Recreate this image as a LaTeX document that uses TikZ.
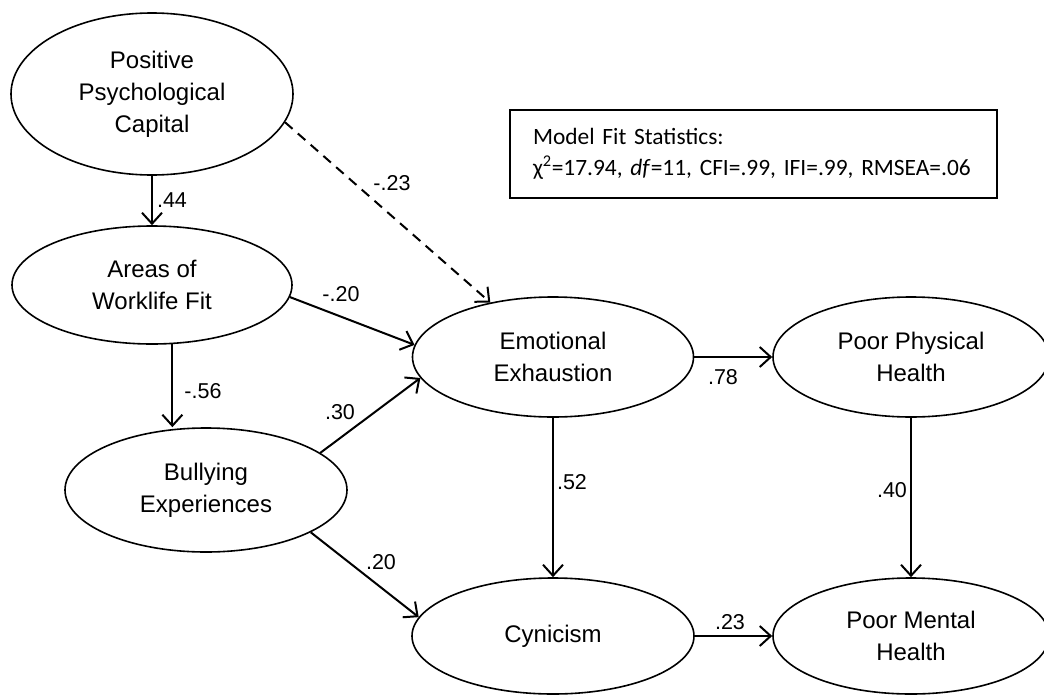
\documentclass[tikz,border=0pt]{standalone}
\usepackage{fontspec}
\setmainfont{Liberation Sans}
\newfontfamily\boxfont{Carlito}
\usetikzlibrary{shapes.geometric,arrows.meta}
\begin{document}
\begin{tikzpicture}[x=1pt,y=-1pt,
  lat/.style={ellipse,draw,line width=1.6pt,inner sep=0pt,align=center,
    font=\fontsize{24}{32}\selectfont},
  pathline/.style={line width=2pt,-{Straight Barb[length=11pt,width=20pt,line width=2pt]}},
  coef/.style={font=\fontsize{21.5}{24}\selectfont,inner sep=0pt}]
\useasboundingbox (0,0) rectangle (1044,696);

\node[lat,minimum width=282pt,minimum height=162pt] (ppc) at (152,94) {Positive\\Psychological\\Capital};
\node[lat,minimum width=280pt,minimum height=118pt] (areas) at (152,285) {Areas of\\Worklife Fit};
\node[lat,minimum width=282pt,minimum height=124pt] (bully) at (206,490) {Bullying\\Experiences};
\node[lat,minimum width=281pt,minimum height=120pt] (ee) at (553,357) {Emotional\\Exhaustion};
\node[lat,minimum width=282pt,minimum height=116pt] (cyn) at (553,636) {Cynicism};
\node[lat,minimum width=276pt,minimum height=120pt] (pph) at (911,357) {Poor Physical\\Health};
\node[lat,minimum width=276pt,minimum height=116pt] (pmh) at (911,636) {Poor Mental\\Health};

\node[draw,line width=2.4pt,minimum width=487pt,minimum height=88pt,inner xsep=23pt,
  text width=441pt,align=left,font=\boxfont\fontsize{23.4}{31}\selectfont] (fit) at (753.5,154)
  {Model Fit Statistics:\\χ\textsuperscript{2}=17.94, \textit{df}=11, CFI=.99, IFI=.99, RMSEA=.06};

\draw[pathline] (ppc.south) -- (areas.north);
\draw[pathline,dash pattern=on 10pt off 7pt] (ppc.-12) -- (ee.139);
\draw[pathline] (areas.-5) -- (ee.175);
\draw[pathline] (areas.-71) -- (areas.-71 |- bully.north);
\draw[pathline] (bully.18) -- (ee.-171);
\draw[pathline] (bully.-22) -- (cyn.172);
\draw[pathline] (ee.south) -- (cyn.north);
\draw[pathline] (ee.east) -- (pph.west);
\draw[pathline] (pph.south) -- (pmh.north);
\draw[pathline] (cyn.east) -- (pmh.west);

\node[coef] (c1) at (172,200) {.44};
\node[coef] (c2) at (392,183) {-.23};
\node[coef] (c3) at (341,294) {-.20};
\node[coef] (c4) at (203,391) {-.56};
\node[coef] (c5) at (340,412) {.30};
\node[coef] (c6) at (381,562) {.20};
\node[coef] (c7) at (572,482) {.52};
\node[coef] (c8) at (723,377) {.78};
\node[coef] (c9) at (892,490) {.40};
\node[coef] (c10) at (730,622) {.23};
\end{tikzpicture}
\end{document}
